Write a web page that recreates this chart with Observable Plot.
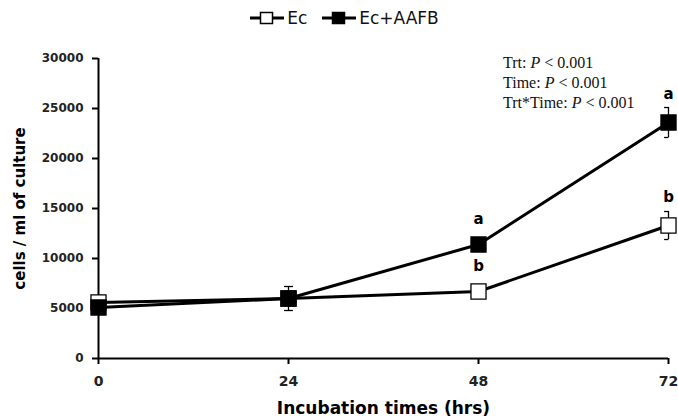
<!DOCTYPE html>
<html><head><meta charset="utf-8">
<script src="https://cdn.jsdelivr.net/npm/d3@7"></script>
<script src="https://cdn.jsdelivr.net/npm/@observablehq/plot@0.6"></script>
<style>
body{margin:0;background:#fff;font-family:"DejaVu Sans",sans-serif;}
#wrap{position:relative;width:678px;height:420px;}
#legend{height:35px;display:flex;justify-content:center;align-items:center;gap:14px;font-size:17px;color:#111;padding-left:10px;box-sizing:border-box}
#legend span{display:flex;align-items:center;gap:2px}
#stats{position:absolute;left:503px;top:53px;font-family:"Liberation Serif","Times New Roman",serif;font-size:16px;line-height:20px;color:#111}
</style></head>
<body>
<div id="wrap">
<div id="legend"></div>
<div id="chart"></div>
<div id="stats"></div>
</div>
<script>
const times = [0, 24, 48, 72];
const series = ["Ec", "Ec+AAFB"];
const ecValues = [5600, 6000, 6700, 13300];
const aafbValues = [5100, 6000, 11400, 23600];
const errTimes = [24, 72, 72];
const errSeries = ["Ec+AAFB", "Ec+AAFB", "Ec"];
const errMeans = [6000, 23600, 13300];
const errSd = [1200, 1500, 1400];
const letterTimes = [48, 48, 72, 72];
const letterSeries = ["Ec+AAFB", "Ec", "Ec+AAFB", "Ec"];
const letterTexts = ["a", "b", "a", "b"];
const letterTop = [11400, 6700, 25100, 14800];
const yTicks = [0, 5000, 10000, 15000, 20000, 25000, 30000];
const statLines = [["Trt: ", "P", " < 0.001"], ["Time: ", "P", " < 0.001"], ["Trt*Time: ", "P", " < 0.001"]];
const fills = {"Ec": "white", "Ec+AAFB": "black"};

const data = [];
times.forEach((t, i) => { data.push({series: "Ec", t, v: ecValues[i]}); data.push({series: "Ec+AAFB", t, v: aafbValues[i]}); });
const errs = errTimes.map((t, i) => ({t, series: errSeries[i], lo: errMeans[i] - errSd[i], hi: errMeans[i] + errSd[i]}));
const caps = errs.flatMap(d => [{t: d.t, v: d.lo}, {t: d.t, v: d.hi}]);
const letters = letterTimes.map((t, i) => ({t, v: letterTop[i], label: letterTexts[i]}));

const fullCap = {draw(ctx, size){ const w = Math.sqrt(size); ctx.moveTo(-w/2, 0); ctx.lineTo(w/2, 0); }};
const leftCap = {draw(ctx, size){ const w = Math.sqrt(size); ctx.moveTo(-w/2, 0); ctx.lineTo(0, 0); }};
const square = {draw(ctx, size){ const w = Math.sqrt(size); ctx.rect(-w/2, -w/2, w, w); }};
const fmt = d3.format("d");

const chart = Plot.plot({
  width: 678, height: 385,
  marginTop: 23, marginBottom: 62, marginLeft: 98, marginRight: 10,
  style: {fontFamily: "DejaVu Sans, sans-serif", fontSize: "12px", fontWeight: "bold", color: "#222", background: "white"},
  x: {domain: [0, 72], label: null},
  y: {domain: [0, 30000], label: null},
  marks: [
    Plot.axisX({ticks: times, tickSize: 6, tickPadding: 12, strokeWidth: 2, stroke: "black", fontSize: 14, fontWeight: "bold", label: null, tickFormat: fmt}),
    Plot.axisY({ticks: yTicks, tickSize: 6, tickPadding: 9, strokeWidth: 2, stroke: "black", fontSize: 12, fontWeight: "bold", label: null, tickFormat: fmt}),
    Plot.ruleY([0], {stroke: "black", strokeWidth: 2}),
    Plot.ruleX([0], {stroke: "black", strokeWidth: 2}),
    Plot.ruleX(errs, {x: "t", y1: "lo", y2: "hi", stroke: "black", strokeWidth: 1.3}),
    Plot.dot(caps.filter(d => d.t !== 72), {x: "t", y: "v", symbol: fullCap, r: 5, stroke: "black", strokeWidth: 1.3}),
    Plot.dot(caps.filter(d => d.t === 72), {x: "t", y: "v", symbol: leftCap, r: 5, stroke: "black", strokeWidth: 1.3}),
    Plot.line(data, {x: "t", y: "v", z: "series", stroke: "black", strokeWidth: 3}),
    Plot.dot(data, {x: "t", y: "v", symbol: square, r: 8.5, stroke: "black", strokeWidth: 1.3, fill: d => fills[d.series]}),
    Plot.text(letters.filter(d => d.t !== 72), {x: "t", y: "v", text: "label", dy: -25, fontSize: 15, fontWeight: "bold", fill: "black"}),
    Plot.text(letters.filter(d => d.t === 72), {x: "t", y: "v", text: "label", dy: -13, fontSize: 15, fontWeight: "bold", fill: "black"}),
    Plot.text(["cells / ml of culture"], {frameAnchor: "left", textAnchor: "middle", rotate: -90, dx: -78, text: d => d, fontSize: 15, fontWeight: "bold", fill: "black"}),
    Plot.text(["Incubation times (hrs)"], {frameAnchor: "bottom", dy: 55, dx: 0, text: d => d, fontSize: 17, fontWeight: "bold", fill: "black"})
  ]
});
document.getElementById("chart").appendChild(chart);

// legend
const leg = document.getElementById("legend");
series.forEach(s => {
  const span = document.createElement("span");
  span.innerHTML = `<svg width="36" height="16"><line x1="1" y1="8" x2="35" y2="8" stroke="black" stroke-width="3"/><rect x="11.5" y="2.5" width="12" height="11" fill="${fills[s]}" stroke="black" stroke-width="1.5"/></svg>${s}`;
  leg.appendChild(span);
});
// stats annotation
const st = document.getElementById("stats");
statLines.forEach(l => {
  const div = document.createElement("div");
  div.innerHTML = `${l[0]}<i>${l[1]}</i>${l[2]}`;
  st.appendChild(div);
});
</script>
</body></html>
